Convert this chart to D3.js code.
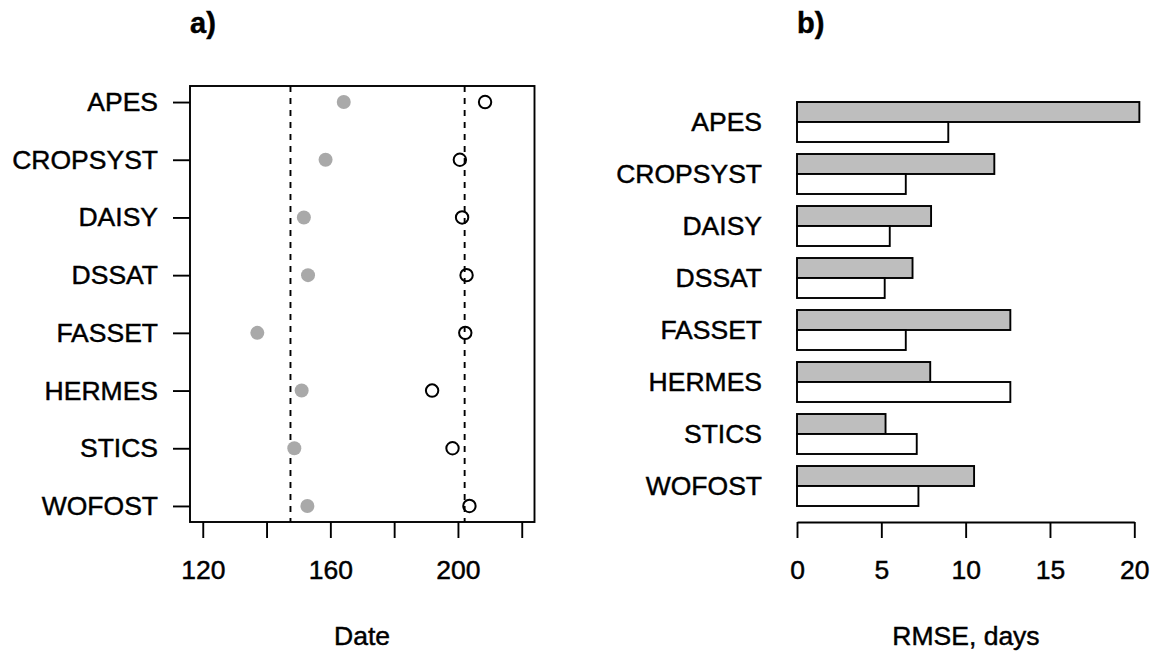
<!DOCTYPE html>
<html><head><meta charset="utf-8">
<script src="https://cdn.jsdelivr.net/npm/d3@7"></script>
<style>
body{margin:0;background:#fff;}
text{font-family:"Liberation Sans",Arial,sans-serif;fill:#000;stroke:#000;stroke-width:0.45px;}
</style></head>
<body>
<svg id="chart" width="1155" height="657"></svg>
<script>
const models = ["APES","CROPSYST","DAISY","DSSAT","FASSET","HERMES","STICS","WOFOST"];
// panel a) dates
const dateGrey = [164.2,158.5,151.7,153.0,137.1,151.0,148.7,152.8];
const dateOpen = [208.5,200.6,201.3,202.7,202.3,191.9,198.3,203.6];
const refLines = [147.5,202.1];
const dateTicks = [120,140,160,180,200,220];
const dateTickLabels = ["120","","160","","200",""];
// panel b) RMSE
const rmseGrey = [20.3,11.7,7.95,6.85,12.65,7.9,5.25,10.5];
const rmseOpen = [8.97,6.45,5.5,5.2,6.45,12.65,7.1,7.2];
const rmseTicks = [0,5,10,15,20];

const svg = d3.select("#chart");
const FS = 26.5;
const LW = 1.9;

// ---------- Panel a ----------
const ax = d3.scaleLinear().domain([116,224]).range([190,534.5]);
const ay = d3.scalePoint().domain(models).range([86,522]).padding(0.278);
const gA = svg.append("g");
gA.append("rect").attr("x",190).attr("y",86).attr("width",344.5).attr("height",436)
  .attr("fill","none").attr("stroke","#000").attr("stroke-width",LW);
gA.selectAll("line.ref").data(refLines).join("line").attr("class","ref")
  .attr("x1",d=>ax(d)).attr("x2",d=>ax(d)).attr("y1",86).attr("y2",522)
  .attr("stroke","#000").attr("stroke-width",LW).attr("stroke-dasharray","6,6");
// y axis
const yAxisA = d3.axisLeft(ay).tickSize(17).tickPadding(15);
const gya = gA.append("g").attr("transform","translate(190,0)").call(yAxisA);
gya.select(".domain").remove();
gya.selectAll(".tick line").attr("stroke","#000").attr("stroke-width",LW);
gya.selectAll(".tick text").attr("font-size",FS).attr("font-family","Liberation Sans, Arial, sans-serif").attr("fill","#000");
// x axis
const xAxisA = d3.axisBottom(ax).tickValues(dateTicks).tickFormat((d,i)=>dateTickLabels[i]).tickSize(16).tickPadding(22);
const gxa = gA.append("g").attr("transform","translate(0,522)").call(xAxisA);
gxa.select(".domain").remove();
gxa.selectAll(".tick line").attr("stroke","#000").attr("stroke-width",LW);
gxa.selectAll(".tick text").attr("font-size",FS).attr("font-family","Liberation Sans, Arial, sans-serif").attr("fill","#000");
// points
gA.selectAll("circle.g").data(models).join("circle").attr("class","g")
  .attr("cx",(d,i)=>ax(dateGrey[i])).attr("cy",d=>ay(d)).attr("r",7).attr("fill","#a9a9a9");
gA.selectAll("circle.o").data(models).join("circle").attr("class","o")
  .attr("cx",(d,i)=>ax(dateOpen[i])).attr("cy",d=>ay(d)).attr("r",6.2)
  .attr("fill","none").attr("stroke","#000").attr("stroke-width",2);
gA.append("text").attr("x",190).attr("y",33).attr("font-size",29).attr("font-weight","bold").text("a)");
gA.append("text").attr("x",362).attr("y",645).attr("text-anchor","middle").attr("font-size",FS).text("Date");

// ---------- Panel b ----------
const bx = d3.scaleLinear().domain([0,20]).range([797,1134.3]);
const by = d3.scaleBand().domain(models).range([102,506]).paddingInner(12/52).paddingOuter(0);
const sub = d3.scaleBand().domain(["grey","open"]).range([0,by.bandwidth()]);
const gB = svg.append("g");
const groups = gB.selectAll("g.grp").data(models).join("g").attr("class","grp")
  .attr("transform",d=>`translate(0,${by(d)})`);
groups.append("rect").attr("x",bx(0)).attr("y",sub("grey"))
  .attr("width",(d,i)=>bx(rmseGrey[i])-bx(0)).attr("height",sub.bandwidth())
  .attr("fill","#bebebe").attr("stroke","#000").attr("stroke-width",LW);
groups.append("rect").attr("x",bx(0)).attr("y",sub("open"))
  .attr("width",(d,i)=>bx(rmseOpen[i])-bx(0)).attr("height",sub.bandwidth())
  .attr("fill","#fff").attr("stroke","#000").attr("stroke-width",LW);
groups.append("text").attr("x",762).attr("y",by.bandwidth()/2).attr("dy","0.35em")
  .attr("text-anchor","end").attr("font-size",FS).text(d=>d);
const xAxisB = d3.axisBottom(bx).tickValues(rmseTicks).tickSize(16).tickPadding(22).tickSizeOuter(0);
const gxb = gB.append("g").attr("transform","translate(0,522)").call(xAxisB);
gxb.select(".domain").attr("stroke","#000").attr("stroke-width",LW);
gxb.selectAll(".tick line").attr("stroke","#000").attr("stroke-width",LW);
gxb.selectAll(".tick text").attr("font-size",FS).attr("font-family","Liberation Sans, Arial, sans-serif").attr("fill","#000");
gB.append("text").attr("x",797).attr("y",33).attr("font-size",29).attr("font-weight","bold").text("b)");
gB.append("text").attr("x",966).attr("y",645).attr("text-anchor","middle").attr("font-size",FS).text("RMSE, days");
</script>
</body></html>
